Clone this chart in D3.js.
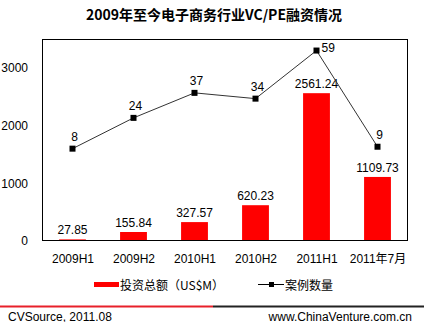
<!DOCTYPE html>
<html>
<head>
<meta charset="utf-8">
<script src="https://cdn.jsdelivr.net/npm/d3@7"></script>
<style>
  html, body { margin: 0; padding: 0; background: #fff; }
  svg { display: block; font-family: "Liberation Sans", Arial, "Noto Sans CJK SC", sans-serif; }
</style>
</head>
<body>
<svg id="chart" width="424" height="322"></svg>
<script>
// Periods, invested amount (US$M) and number of deals
const categories = ["2009H1", "2009H2", "2010H1", "2010H2", "2011H1", "2011年7月"];
const amounts = [27.85, 155.84, 327.57, 620.23, 2561.24, 1109.73];
const deals = [8, 24, 37, 34, 59, 9];
const yTicks = [0, 1000, 2000, 3000];

const titleText = "2009年至今电子商务行业VC/PE融资情况";
const legendAmount = "投资总额（US$M）";
const legendDeals = "案例数量";
const sourceText = "CVSource, 2011.08";
const siteText = "www.ChinaVenture.com.cn";

const svg = d3.select("#chart");
const plot = { left: 42, right: 408, top: 39, bottom: 241 };
const font = '"Liberation Sans", Arial, "Noto Sans CJK SC", sans-serif';
const cjkFont = '"Noto Sans CJK SC", "Liberation Sans", sans-serif';

const x = d3.scaleBand().domain(categories).range([plot.left, plot.right]).paddingInner(0.56).paddingOuter(0.28);
const xc = d3.scalePoint().domain(categories).range([plot.left, plot.right]).padding(0.5);
const y = d3.scaleLinear().domain([0, 3500]).range([plot.bottom, plot.top]);
const y2 = d3.scaleLinear().domain([-40, 65]).range([plot.bottom, plot.top]);

// Title
svg.append("text")
  .attr("x", 214).attr("y", 20)
  .attr("text-anchor", "middle")
  .attr("font-family", cjkFont)
  .attr("font-weight", "bold")
  .attr("font-size", 14)
  .attr("fill", "#000")
  .text(titleText);

// Left axis labels (no tick marks)
const yAxis = d3.axisLeft(y).tickValues(yTicks).tickFormat(d3.format("d")).tickSize(0).tickPadding(14);
const gy = svg.append("g").attr("transform", `translate(${plot.left},0)`).call(yAxis);
gy.select(".domain").remove();
gy.selectAll("text").attr("font-size", 12).attr("font-family", font).attr("fill", "#000");

// Bottom axis labels
const xAxis = d3.axisBottom(xc).tickSize(0).tickPadding(13);
const gx = svg.append("g").attr("transform", `translate(0,${plot.bottom})`).call(xAxis);
gx.select(".domain").remove();
gx.selectAll("text").attr("font-size", 12).attr("font-family", font).attr("fill", "#000");

// Bars
svg.append("g").selectAll("rect").data(amounts).join("rect")
  .attr("x", (d, i) => x(categories[i]))
  .attr("width", x.bandwidth())
  .attr("y", d => y(d))
  .attr("height", d => plot.bottom - y(d))
  .attr("fill", "#ff0000");

svg.append("g").selectAll("text").data(amounts).join("text")
  .attr("x", (d, i) => xc(categories[i]))
  .attr("y", d => y(d) - 5)
  .attr("text-anchor", "middle")
  .attr("font-size", 12)
  .attr("fill", "#000")
  .text(d => d.toFixed(2));

// Plot frame
svg.append("rect")
  .attr("x", plot.left + 0.5).attr("y", plot.top + 0.5)
  .attr("width", plot.right - plot.left - 1).attr("height", plot.bottom - plot.top - 1)
  .attr("fill", "none").attr("stroke", "#000").attr("stroke-width", 1);

// Deal count line on the secondary scale
const line = d3.line().x((d, i) => xc(categories[i])).y(d => y2(d));
svg.append("path").datum(deals)
  .attr("d", line)
  .attr("fill", "none")
  .attr("stroke", "#333")
  .attr("stroke-width", 1);

svg.append("g").selectAll("rect").data(deals).join("rect")
  .attr("x", (d, i) => xc(categories[i]) - 3)
  .attr("y", d => y2(d) - 3)
  .attr("width", 6).attr("height", 6)
  .attr("fill", "#000");

const maxDeals = d3.max(deals);
svg.append("g").selectAll("text").data(deals).join("text")
  .attr("x", (d, i) => xc(categories[i]) + (d === maxDeals ? 5 : 2))
  .attr("y", d => d === maxDeals ? y2(d) + 1 : y2(d) - 8)
  .attr("text-anchor", d => d === maxDeals ? "start" : "middle")
  .attr("font-size", 12)
  .attr("fill", "#000")
  .text(d => d);

// Legend
const lg = svg.append("g");
lg.append("rect").attr("x", 94).attr("y", 282).attr("width", 25).attr("height", 5).attr("fill", "#ff0000");
lg.append("text").attr("x", 120).attr("y", 289.5).attr("font-size", 12)
  .attr("font-family", cjkFont).attr("fill", "#000").text(legendAmount);
lg.append("line").attr("x1", 258).attr("x2", 284).attr("y1", 284.5).attr("y2", 284.5)
  .attr("stroke", "#000").attr("stroke-width", 1);
lg.append("rect").attr("x", 269).attr("y", 282).attr("width", 5).attr("height", 5).attr("fill", "#000");
lg.append("text").attr("x", 285).attr("y", 289.5).attr("font-size", 12)
  .attr("font-family", cjkFont).attr("fill", "#000").text(legendDeals);

// Footer rule and credits
svg.append("rect").attr("x", 0).attr("y", 305.5).attr("width", 213).attr("height", 2).attr("fill", "#e8202a");
svg.append("rect").attr("x", 213).attr("y", 305.5).attr("width", 211).attr("height", 2).attr("fill", "#222");
svg.append("text").attr("x", 8).attr("y", 320.5).attr("font-size", 12).attr("fill", "#000").text(sourceText);
svg.append("text").attr("x", 412).attr("y", 320.5).attr("text-anchor", "end").attr("font-size", 12).attr("fill", "#000").text(siteText);
</script>
</body>
</html>
